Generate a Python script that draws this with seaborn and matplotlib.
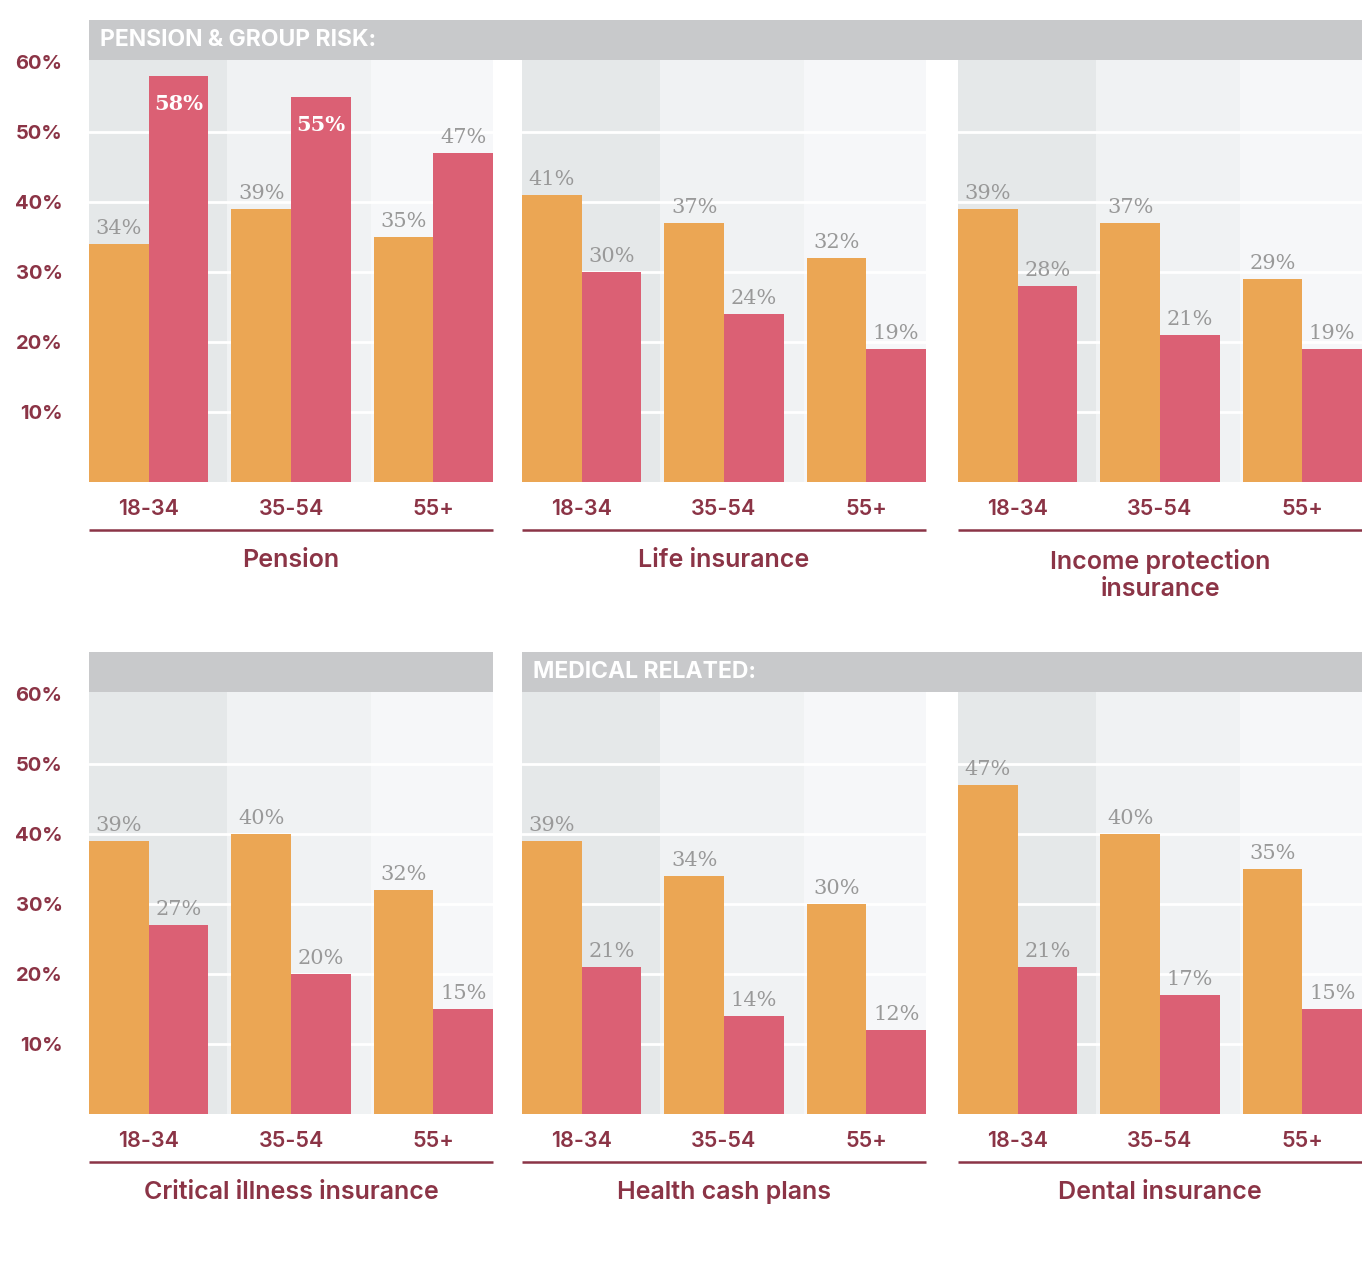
"""
Grouped bar panels: pension & group risk / medical related, by age band.
"""

import pandas as pd
import matplotlib.pyplot as plt
from matplotlib.patches import Rectangle
import seaborn as sns

# ---- data ----
age_groups = ["18-34", "35-54", "55+"]
series_names = ["First", "Second"]

panel_titles = [
    "Pension",
    "Life insurance",
    "Income protection\ninsurance",
    "Critical illness insurance",
    "Health cash plans",
    "Dental insurance",
]

first_values = [
    [34, 39, 35],
    [41, 37, 32],
    [39, 37, 29],
    [39, 40, 32],
    [39, 34, 30],
    [47, 40, 35],
]
second_values = [
    [58, 55, 47],
    [30, 24, 19],
    [28, 21, 19],
    [27, 20, 15],
    [21, 14, 12],
    [21, 17, 15],
]

y_ticks = [10, 20, 30, 40, 50, 60]
y_tick_labels = ["10%", "20%", "30%", "40%", "50%", "60%"]

# ---- styling ----
ORANGE = "#eba654"
PINK = "#db6074"
MAROON = "#8b3446"
LABEL_GREY = "#999999"
HEADER_GREY = "#c8c9cb"
BANDS = ["#e5e8e9", "#f0f2f3", "#f6f7f9"]
SANS = ["Inter", "DejaVu Sans"]

W, H = 1362, 1284

sns.set_theme(style="white")
plt.rcParams["font.family"] = SANS


def fig_rect(x0, y0, x1, y1):
    """pixel box (top-left origin) -> figure fraction [l, b, w, h]"""
    return [x0 / W, 1 - y1 / H, (x1 - x0) / W, (y1 - y0) / H]


def add_header(fig, x0, x1, y0, y1, text=None):
    fig.add_artist(Rectangle((x0 / W, 1 - y1 / H), (x1 - x0) / W, (y1 - y0) / H,
                             transform=fig.transFigure, facecolor=HEADER_GREY,
                             edgecolor="none"))
    if text:
        fig.text((x0 + 11) / W, 1 - (y0 + y1 + 1) / 2 / H, text, color="white",
                 fontsize=16.5, fontweight="bold", va="center", ha="left")


fig = plt.figure(figsize=(W / 100, H / 100), dpi=100)

# header bars
add_header(fig, 89, W, 20, 60, "PENSION & GROUP RISK:")
add_header(fig, 89, 493, 652, 692)
add_header(fig, 522, W, 652, 692, "MEDICAL RELATED:")

col_x = [(89, 493), (522, 926), (958, 1362)]
row_y = [(60, 482), (692, 1114)]

for i, title in enumerate(panel_titles):
    r, c = divmod(i, 3)
    x0, x1 = col_x[c]
    y0, y1 = row_y[r]
    ax = fig.add_axes(fig_rect(x0, y0, x1, y1))

    df = pd.DataFrame({
        "age": age_groups * 2,
        "value": first_values[i] + second_values[i],
        "series": [series_names[0]] * 3 + [series_names[1]] * 3,
    })

    # alternating background bands per age group
    edges = [-0.42, 0.55, 1.56, 2.42]
    for k in range(3):
        ax.axvspan(edges[k], edges[k + 1], color=BANDS[k], zorder=0, lw=0)
    # white guide lines (none at the top edge)
    for yv in y_ticks[:-1]:
        ax.axhline(yv, color="white", lw=2, zorder=0.5)

    sns.barplot(data=df, x="age", y="value", hue="series", order=age_groups,
                hue_order=series_names, palette=[ORANGE, PINK], saturation=1,
                width=0.84, linewidth=0, legend=False, ax=ax, zorder=2)

    ax.set_xlim(-0.42, 2.42)
    ax.set_ylim(0, 60.3)
    ax.grid(False)
    for sp in ax.spines.values():
        sp.set_visible(False)

    ax.set_yticks(y_ticks)
    if c == 0:
        ax.set_yticklabels(y_tick_labels)
        ax.tick_params(axis="y", length=0, pad=19, labelsize=14.5,
                       labelcolor=MAROON)
        for t in ax.get_yticklabels():
            t.set_fontweight("bold")
    else:
        ax.set_yticklabels([])
        ax.tick_params(axis="y", length=0)

    ax.tick_params(axis="x", length=0, pad=12, labelsize=15.5, labelcolor=MAROON)
    for t in ax.get_xticklabels():
        t.set_fontweight("semibold")
    ax.set_xlabel("")
    ax.set_ylabel("")

    # value labels
    for cont in ax.containers:
        for bar in cont:
            h = bar.get_height()
            cx = bar.get_x() + bar.get_width() / 2
            if h > 50:
                ax.annotate(f"{h:.0f}%", (cx, h), xytext=(0, -20),
                            textcoords="offset points", ha="center", va="center",
                            color="white", fontsize=15, fontweight="bold",
                            family="DejaVu Serif")
            else:
                ax.annotate(f"{h:.0f}%", (cx, h), xytext=(0, 11),
                            textcoords="offset points", ha="center", va="center",
                            color=LABEL_GREY, fontsize=15, fontweight="normal",
                            family="DejaVu Serif")

    # underline and panel title
    ph = y1 - y0
    ax.plot([0, 1], [-48 / ph, -48 / ph], transform=ax.transAxes, color=MAROON,
            lw=1.8, clip_on=False, solid_capstyle="butt")
    ax.text(0.5, -67 / ph, title, transform=ax.transAxes, ha="center", va="top",
            color=MAROON, fontsize=18, fontweight="semibold", linespacing=1.2)

fig.savefig("out.png", dpi=100, facecolor="white")
